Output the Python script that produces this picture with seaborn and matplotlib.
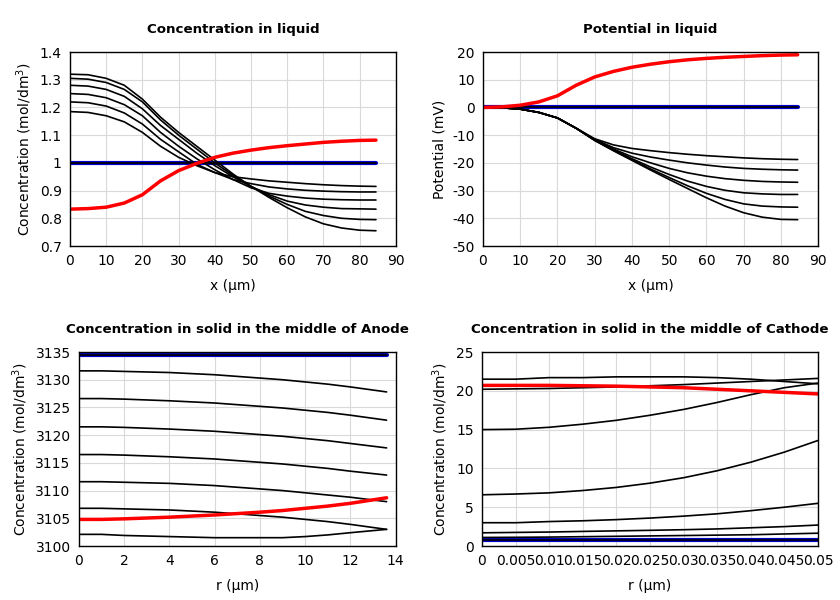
import matplotlib
matplotlib.use('Agg')
import matplotlib.pyplot as plt
import seaborn as sns
from matplotlib.ticker import FormatStrFormatter, MultipleLocator

# ---- concentration in liquid ----
x_liq = [0, 5, 10, 15, 20, 25, 30, 35, 40, 45, 50, 55, 60, 65, 70, 75, 80, 84.5]
conc_liq = [
    [1.320, 1.318, 1.305, 1.280, 1.230, 1.165, 1.110, 1.060, 1.010, 0.960, 0.915, 0.875, 0.838, 0.805, 0.780, 0.765, 0.757, 0.755],
    [1.305, 1.302, 1.290, 1.265, 1.220, 1.155, 1.100, 1.050, 1.000, 0.955, 0.915, 0.880, 0.850, 0.825, 0.810, 0.800, 0.796, 0.795],
    [1.280, 1.277, 1.265, 1.240, 1.195, 1.135, 1.085, 1.035, 0.990, 0.950, 0.915, 0.885, 0.862, 0.848, 0.840, 0.835, 0.834, 0.833],
    [1.250, 1.247, 1.235, 1.210, 1.170, 1.110, 1.060, 1.015, 0.975, 0.940, 0.910, 0.890, 0.880, 0.873, 0.869, 0.867, 0.866, 0.866],
    [1.220, 1.217, 1.205, 1.180, 1.140, 1.085, 1.040, 0.995, 0.965, 0.940, 0.925, 0.913, 0.906, 0.901, 0.898, 0.896, 0.895, 0.895],
    [1.185, 1.182, 1.170, 1.148, 1.110, 1.060, 1.020, 0.990, 0.965, 0.950, 0.942, 0.935, 0.930, 0.925, 0.921, 0.918, 0.916, 0.915],
]
conc_liq_init = [1.0] * len(x_liq)
conc_liq_final = [0.833, 0.835, 0.840, 0.855, 0.885, 0.935, 0.972, 0.998, 1.020, 1.035, 1.046, 1.055, 1.062, 1.068, 1.074, 1.078, 1.081, 1.082]

# ---- potential in liquid ----
pot_liq = [
    [0, -0.1, -0.6, -1.8, -3.8, -7.5, -11.3, -13.5, -14.8, -15.6, -16.3, -16.9, -17.4, -17.8, -18.2, -18.5, -18.7, -18.8],
    [0, -0.1, -0.6, -1.8, -3.8, -7.5, -11.5, -14.5, -16.5, -17.9, -19.0, -20.0, -20.8, -21.5, -22.0, -22.3, -22.5, -22.6],
    [0, -0.1, -0.6, -1.8, -3.8, -7.5, -11.7, -15.0, -17.8, -20.0, -22.0, -23.6, -24.8, -25.7, -26.3, -26.7, -26.9, -27.0],
    [0, -0.1, -0.6, -1.8, -3.8, -7.5, -11.8, -15.3, -18.5, -21.5, -24.2, -26.6, -28.5, -29.9, -30.8, -31.2, -31.4, -31.4],
    [0, -0.1, -0.6, -1.8, -3.8, -7.5, -11.9, -15.5, -18.9, -22.2, -25.3, -28.3, -31.0, -33.2, -34.8, -35.6, -35.9, -36.0],
    [0, -0.1, -0.6, -1.8, -3.8, -7.5, -11.9, -15.6, -19.1, -22.6, -26.0, -29.3, -32.6, -35.6, -38.0, -39.6, -40.4, -40.5],
]
pot_liq_init = [0.0] * len(x_liq)
pot_liq_final = [0, 0.2, 0.8, 2.0, 4.2, 8.0, 11.0, 13.0, 14.5, 15.6, 16.5, 17.2, 17.7, 18.1, 18.4, 18.7, 18.9, 19.0]

# ---- solid, anode ----
r_an = [0, 1, 2, 4, 6, 8, 9, 10, 11, 12, 13.6]
conc_an = [
    [3131.6, 3131.6, 3131.5, 3131.3, 3130.9, 3130.3, 3130.0, 3129.6, 3129.2, 3128.7, 3127.8],
    [3126.6, 3126.6, 3126.5, 3126.2, 3125.8, 3125.2, 3124.9, 3124.5, 3124.1, 3123.6, 3122.7],
    [3121.5, 3121.5, 3121.4, 3121.1, 3120.7, 3120.1, 3119.8, 3119.4, 3119.0, 3118.5, 3117.7],
    [3116.5, 3116.5, 3116.4, 3116.1, 3115.7, 3115.1, 3114.8, 3114.4, 3114.0, 3113.5, 3112.8],
    [3111.6, 3111.6, 3111.5, 3111.3, 3110.9, 3110.3, 3110.0, 3109.6, 3109.2, 3108.8, 3108.0],
    [3106.8, 3106.8, 3106.7, 3106.5, 3106.1, 3105.5, 3105.2, 3104.8, 3104.4, 3103.9, 3103.0],
    [3102.1, 3102.1, 3101.9, 3101.7, 3101.5, 3101.5, 3101.5, 3101.7, 3102.0, 3102.4, 3103.0],
]
conc_an_init = [3134.5] * len(r_an)
conc_an_final = [3104.8, 3104.8, 3104.9, 3105.2, 3105.6, 3106.1, 3106.4, 3106.8, 3107.2, 3107.7, 3108.7]

# ---- solid, cathode ----
r_ca = [0, 0.005, 0.01, 0.015, 0.02, 0.025, 0.03, 0.035, 0.04, 0.045, 0.05]
conc_ca = [
    [1.10, 1.12, 1.15, 1.20, 1.25, 1.30, 1.35, 1.40, 1.45, 1.55, 1.65],
    [1.70, 1.75, 1.80, 1.88, 1.95, 2.02, 2.10, 2.20, 2.35, 2.50, 2.70],
    [3.00, 3.00, 3.15, 3.25, 3.40, 3.60, 3.85, 4.15, 4.55, 5.00, 5.50],
    [6.60, 6.70, 6.85, 7.15, 7.55, 8.10, 8.80, 9.70, 10.80, 12.10, 13.60],
    [15.00, 15.05, 15.30, 15.70, 16.20, 16.85, 17.60, 18.50, 19.50, 20.40, 21.00],
    [20.20, 20.25, 20.30, 20.40, 20.50, 20.65, 20.80, 21.00, 21.20, 21.40, 21.60],
    [21.50, 21.50, 21.70, 21.70, 21.80, 21.80, 21.80, 21.70, 21.50, 21.20, 20.90],
]
conc_ca_init = [0.75] * len(r_ca)
conc_ca_final = [20.70, 20.70, 20.70, 20.65, 20.60, 20.50, 20.40, 20.20, 20.00, 19.80, 19.60]


def draw_panel(ax, x, curves, init, final, title, xlabel, ylabel):
    sns.lineplot(x=x, y=init, ax=ax, color='#0000cc', linewidth=3.0)
    sns.lineplot(x=x, y=init, ax=ax, color='black', linewidth=1.2)
    for c in curves:
        sns.lineplot(x=x, y=c, ax=ax, color='black', linewidth=1.2)
    sns.lineplot(x=x, y=final, ax=ax, color='red', linewidth=2.5)
    ax.set_title(title, fontsize=9.6, fontweight='bold', pad=14, color='black')
    ax.set_xlabel(xlabel, fontsize=10, labelpad=8, color='black')
    ax.set_ylabel(ylabel, fontsize=10, color='black')
    ax.tick_params(labelsize=10, length=0, pad=6, colors='black')
    ax.grid(True, color='#d9d9d9', linewidth=0.8)
    for s in ax.spines.values():
        s.set_color('black')
        s.set_linewidth(1.0)
    ax.yaxis.set_major_formatter(FormatStrFormatter('%g'))
    ax.xaxis.set_major_formatter(FormatStrFormatter('%g'))


def main():
    sns.set_style('whitegrid')
    plt.rcParams['font.family'] = ['DejaVu Sans']
    plt.rcParams['text.color'] = 'black'
    plt.rcParams['axes.labelcolor'] = 'black'
    fig = plt.figure(figsize=(8.4, 6.0), dpi=100)
    ax1 = fig.add_axes([0.0833, 0.59, 0.388, 0.3233])
    ax2 = fig.add_axes([0.575, 0.59, 0.399, 0.3233])
    ax3 = fig.add_axes([0.094, 0.09, 0.377, 0.3233])
    ax4 = fig.add_axes([0.5738, 0.09, 0.400, 0.3233])

    conc_label = 'Concentration (mol/dm$^3$)'
    draw_panel(ax1, x_liq, conc_liq, conc_liq_init, conc_liq_final,
               'Concentration in liquid', 'x (µm)', conc_label)
    ax1.set_xlim(0, 90)
    ax1.set_ylim(0.7, 1.4)
    ax1.xaxis.set_major_locator(MultipleLocator(10))
    ax1.yaxis.set_major_locator(MultipleLocator(0.1))

    draw_panel(ax2, x_liq, pot_liq, pot_liq_init, pot_liq_final,
               'Potential in liquid', 'x (µm)', 'Potential (mV)')
    ax2.set_xlim(0, 90)
    ax2.set_ylim(-50, 20)
    ax2.xaxis.set_major_locator(MultipleLocator(10))
    ax2.yaxis.set_major_locator(MultipleLocator(10))

    draw_panel(ax3, r_an, conc_an, conc_an_init, conc_an_final,
               'Concentration in solid in the middle of Anode', 'r (µm)', conc_label)
    ax3.set_xlim(0, 14)
    ax3.set_ylim(3100, 3135)
    ax3.xaxis.set_major_locator(MultipleLocator(2))
    ax3.yaxis.set_major_locator(MultipleLocator(5))

    draw_panel(ax4, r_ca, conc_ca, conc_ca_init, conc_ca_final,
               'Concentration in solid in the middle of Cathode', 'r (µm)', conc_label)
    ax4.set_xlim(0, 0.05)
    ax4.set_ylim(0, 25)
    ax4.xaxis.set_major_locator(MultipleLocator(0.005))
    ax4.yaxis.set_major_locator(MultipleLocator(5))

    fig.savefig('out.png', dpi=100)


if __name__ == '__main__':
    main()
